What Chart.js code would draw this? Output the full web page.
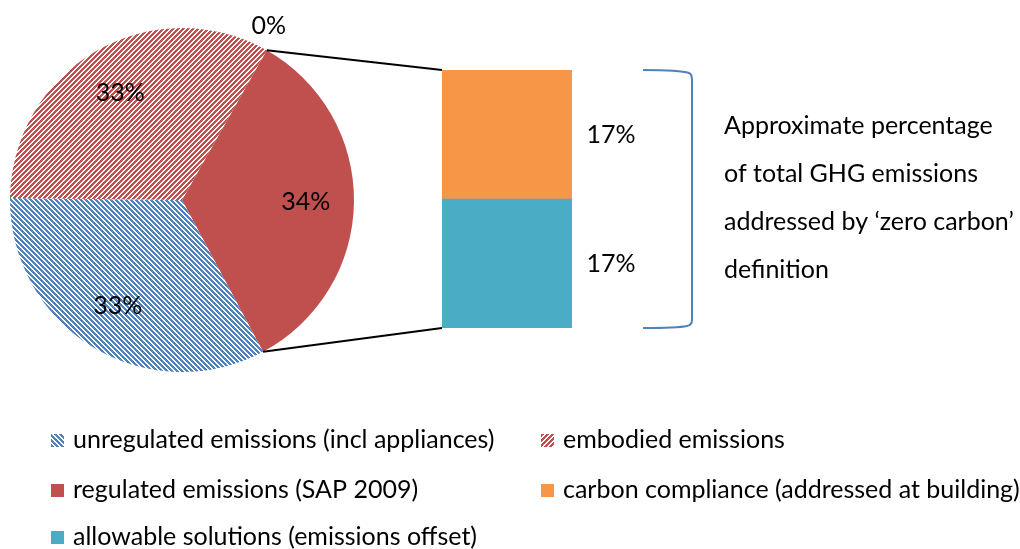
<!DOCTYPE html>
<html>
<head>
<meta charset="utf-8">
<script src="https://cdn.jsdelivr.net/npm/chart.js@4.4.0/dist/chart.umd.min.js"></script>
<style>
    html, body { margin: 0; padding: 0; background: #fff; }
    #wrap { position: relative; width: 1020px; height: 549px; background: #fff; }
    #wrap canvas { position: absolute; left: 0; top: 0; }
</style>
</head>
<body>
<div id="wrap">
    <canvas id="pie" width="1020" height="549"></canvas>
    <canvas id="bar" width="1020" height="549"></canvas>
</div>
<script>
// pie slices, clockwise from the connector at the top
var pieLabels = ['regulated emissions (SAP 2009)', 'unregulated emissions (incl appliances)', 'embodied emissions', ''];
var pieValues = [34, 33, 33, 0];

// stacked bar, bottom to top
var barLabels = ['allowable solutions (emissions offset)', 'carbon compliance (addressed at building)'];
var barValues = [17, 17];

var noteLines = ['Approximate percentage', 'of total GHG emissions', 'addressed by \u2018zero carbon\u2019', 'definition'];

// legend, read row by row
var legendNames = [
    'unregulated emissions (incl appliances)', 'embodied emissions',
    'regulated emissions (SAP 2009)', 'carbon compliance (addressed at building)',
    'allowable solutions (emissions offset)'
];

var RED = '#C0504D', BLUE = '#4F81BD', ORANGE = '#F79646', TEAL = '#4BACC6';
var FONT = 'Lato, "Open Sans", sans-serif';
var SIZE = 25;

// pixel stair hatch, like the office pattern fills
function hatch(color, up) {
    var c = document.createElement('canvas'), g, x, y, k;
    c.width = c.height = 10;
    g = c.getContext('2d');
    g.fillStyle = '#fff';
    g.fillRect(0, 0, 10, 10);
    g.fillStyle = color;
    for (y = 0; y < 10; y += 1) {
        for (x = 0; x < 10; x += 1) {
            k = up ? (x + y) % 5 : (x - y + 10) % 5;
            if (k < 3) {
                g.fillRect(x, y, 1, 1);
            }
        }
    }
    return g.createPattern(c, 'repeat');
}

var redHatch = hatch(RED, true),
    blueHatch = hatch(BLUE, false);

var fills = {};
fills[pieLabels[0]] = RED;
fills[pieLabels[1]] = blueHatch;
fills[pieLabels[2]] = redHatch;
fills[barLabels[0]] = TEAL;
fills[barLabels[1]] = ORANGE;

var pieValueLabels = {
    id: 'pieValueLabels',
    afterDatasetsDraw: function (chart) {
        var ctx = chart.ctx;
        ctx.save();
        ctx.fillStyle = '#000';
        ctx.font = SIZE + 'px ' + FONT;
        ctx.textAlign = 'center';
        ctx.textBaseline = 'middle';
        chart.getDatasetMeta(0).data.forEach(function (arc, i) {
            var p = arc.getProps(['x', 'y', 'startAngle', 'endAngle', 'outerRadius']),
                mid = (p.startAngle + p.endAngle) / 2,
                txt = pieValues[i] + '%';
            if (pieValues[i] === 0) {
                ctx.fillText(txt, p.x + p.outerRadius * Math.cos(mid) + 2, p.y + p.outerRadius * Math.sin(mid) - 24);
            } else {
                var r = p.outerRadius * 0.72;
                ctx.fillText(txt, p.x + r * Math.cos(mid), p.y + r * Math.sin(mid));
            }
        });
        ctx.restore();
    }
};

var pieChart = new Chart(document.getElementById('pie'), {
    type: 'pie',
    data: {
        labels: pieLabels,
        datasets: [{
            data: pieValues,
            backgroundColor: [RED, blueHatch, redHatch, RED],
            borderWidth: 0
        }]
    },
    options: {
        responsive: false,
        animation: false,
        devicePixelRatio: 1,
        rotation: 29.5,
        layout: { padding: { left: 10, top: 28, right: 666, bottom: 177 } },
        plugins: { legend: { display: false }, tooltip: { enabled: false } }
    },
    plugins: [pieValueLabels]
});

var overlay = {
    id: 'overlay',
    afterDraw: function (chart) {
        var ctx = chart.ctx,
            arcs = pieChart.getDatasetMeta(0).data,
            reg = arcs[0].getProps(['x', 'y', 'startAngle', 'endAngle', 'outerRadius']),
            low = chart.getDatasetMeta(0).data[0],
            high = chart.getDatasetMeta(1).data[0],
            left = low.x - low.width / 2,
            right = low.x + low.width / 2,
            top = high.y,
            bottom = low.base,
            i;

        ctx.save();

        // connector lines from the pie to the bar
        ctx.strokeStyle = '#000';
        ctx.lineWidth = 2;
        ctx.beginPath();
        ctx.moveTo(reg.x + reg.outerRadius * Math.cos(reg.startAngle), reg.y + reg.outerRadius * Math.sin(reg.startAngle));
        ctx.lineTo(left, top);
        ctx.moveTo(reg.x + reg.outerRadius * Math.cos(reg.endAngle), reg.y + reg.outerRadius * Math.sin(reg.endAngle));
        ctx.lineTo(left, bottom);
        ctx.stroke();

        // bar value labels
        ctx.fillStyle = '#000';
        ctx.font = SIZE + 'px ' + FONT;
        ctx.textAlign = 'center';
        ctx.textBaseline = 'middle';
        ctx.fillText(barValues[1] + '%', right + 39, (high.y + high.base) / 2);
        ctx.fillText(barValues[0] + '%', right + 39, (low.y + low.base) / 2);

        // bracket
        var bx0 = right + 71, bx1 = right + 120;
        ctx.strokeStyle = BLUE;
        ctx.lineWidth = 2;
        ctx.beginPath();
        ctx.moveTo(bx0, top);
        ctx.quadraticCurveTo(bx1 - 12, top, bx1 - 3, top + 3);
        ctx.quadraticCurveTo(bx1, top + 4, bx1, top + 10);
        ctx.lineTo(bx1, bottom - 8);
        ctx.quadraticCurveTo(bx1, bottom - 3, bx1 - 5, bottom - 2);
        ctx.quadraticCurveTo(bx1 - 14, bottom, bx0, bottom);
        ctx.stroke();

        // note text
        ctx.textAlign = 'left';
        for (i = 0; i < noteLines.length; i += 1) {
            ctx.fillText(noteLines[i], 724, 126 + i * 48);
        }

        // legend
        var colX = [51, 541], rowY = [440, 490, 537];
        for (i = 0; i < legendNames.length; i += 1) {
            var x = colX[i % 2], y = rowY[Math.floor(i / 2)];
            ctx.fillStyle = fills[legendNames[i]];
            ctx.fillRect(x, y - 6, 13, 13);
            ctx.fillStyle = '#000';
            ctx.fillText(legendNames[i], x + 22, y);
        }

        ctx.restore();
    }
};

new Chart(document.getElementById('bar'), {
    type: 'bar',
    data: {
        labels: [''],
        datasets: [
            { label: barLabels[0], data: [barValues[0]], backgroundColor: TEAL, stack: 's' },
            { label: barLabels[1], data: [barValues[1]], backgroundColor: ORANGE, stack: 's' }
        ]
    },
    options: {
        responsive: false,
        animation: false,
        devicePixelRatio: 1,
        categoryPercentage: 1,
        barPercentage: 1,
        layout: { padding: { left: 442, right: 448, top: 70, bottom: 221 } },
        scales: {
            x: { display: false, stacked: true },
            y: { display: false, stacked: true, min: 0, max: barValues[0] + barValues[1] }
        },
        plugins: { legend: { display: false }, tooltip: { enabled: false } }
    },
    plugins: [overlay]
});
</script>
</body>
</html>
